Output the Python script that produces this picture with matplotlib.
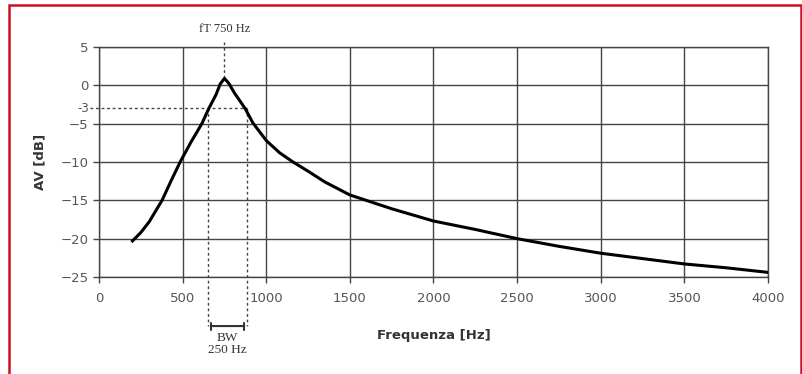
import matplotlib
matplotlib.use("Agg")
import matplotlib.pyplot as plt
from matplotlib.patches import Rectangle

# Risposta in frequenza
freq = [200, 250, 300, 377, 430, 485, 550, 615, 657, 700, 725, 750, 775,
        810, 873, 920, 1000, 1080, 1160, 1250, 1350, 1500, 1750,
        2000, 2250, 2500, 2750, 3000, 3250, 3500, 3750, 4000]
av_db = [-20.3, -19.2, -17.8, -15.0, -12.5, -10.0, -7.4, -5.0, -3.0, -1.2, 0.2, 0.9, 0.3,
         -1.0, -3.0, -4.9, -7.2, -8.8, -10.0, -11.2, -12.6, -14.3, -16.1,
         -17.7, -18.8, -20.0, -21.0, -21.9, -22.6, -23.3, -23.8, -24.4]

x_ticks = [0, 500, 1000, 1500, 2000, 2500, 3000, 3500, 4000]
y_ticks = [5, 0, -5, -10, -15, -20, -25]
f_t = 750
f_low, f_high = 652, 885
db_cut = -3

fig = plt.figure(figsize=(8.03, 3.74), dpi=100)
ax = fig.add_axes([0.1233, 0.2594, 0.8331, 0.6149])

ax.set_xlim(0, 4000)
ax.set_ylim(-25, 5)
ax.set_xticks(x_ticks)
ax.set_yticks(y_ticks)
ax.grid(True, color="#444444", linewidth=1.0)
ax.set_axisbelow(True)
for s in ax.spines.values():
    s.set_color("#444444")
    s.set_linewidth(1.0)
ax.tick_params(axis="both", colors="#444444", labelcolor="#555555",
               labelsize=9.5, length=4, width=1.0)
ax.tick_params(axis="x", pad=7)

ax.plot(freq, av_db, color="black", linewidth=2.2, zorder=3,
        solid_joinstyle="round")

# linee tratteggiate
dot = dict(color="#444444", linestyle=(0, (2, 2)), linewidth=1.0, clip_on=False)
ax.plot([-55, f_high], [db_cut, db_cut], **dot)
ax.plot([f_t, f_t], [0.9, 5.6], **dot)
ax.plot([f_low, f_low], [db_cut, -31.4], **dot)
ax.plot([f_high, f_high], [db_cut, -31.4], **dot)
ax.text(-62, db_cut, "-3", ha="right", va="center", fontsize=8.5,
        color="#555555")

# freccia BW
ax.annotate("", xy=(f_low, -31.4), xytext=(f_high, -31.4),
            arrowprops=dict(arrowstyle="|-|", mutation_scale=2.5,
                            color="#333333", lw=1.5),
            annotation_clip=False)
ax.text((f_low + f_high) / 2, -32.2, "BW\n250 Hz", ha="center", va="top",
        fontsize=9.5, family="Liberation Serif", color="#333333",
        linespacing=0.95)
ax.text(f_t, 7.3, "fT 750 Hz", ha="center", va="center", fontsize=9,
        family="Liberation Serif", color="#333333")

ax.set_xlabel("Frequenza [Hz]", fontsize=9.5, fontweight="bold",
              color="#333333", labelpad=17)
ax.set_ylabel("AV [dB]", fontsize=9.5, fontweight="bold", color="#333333",
              labelpad=10)

# cornice rossa
fig.patches.append(Rectangle((8.5 / 803, -0.1), 793 / 803, 1.1 - 5.5 / 374,
                             transform=fig.transFigure, fill=False,
                             edgecolor="#cc1122", linewidth=1.8))

fig.savefig("out.png", dpi=100)
